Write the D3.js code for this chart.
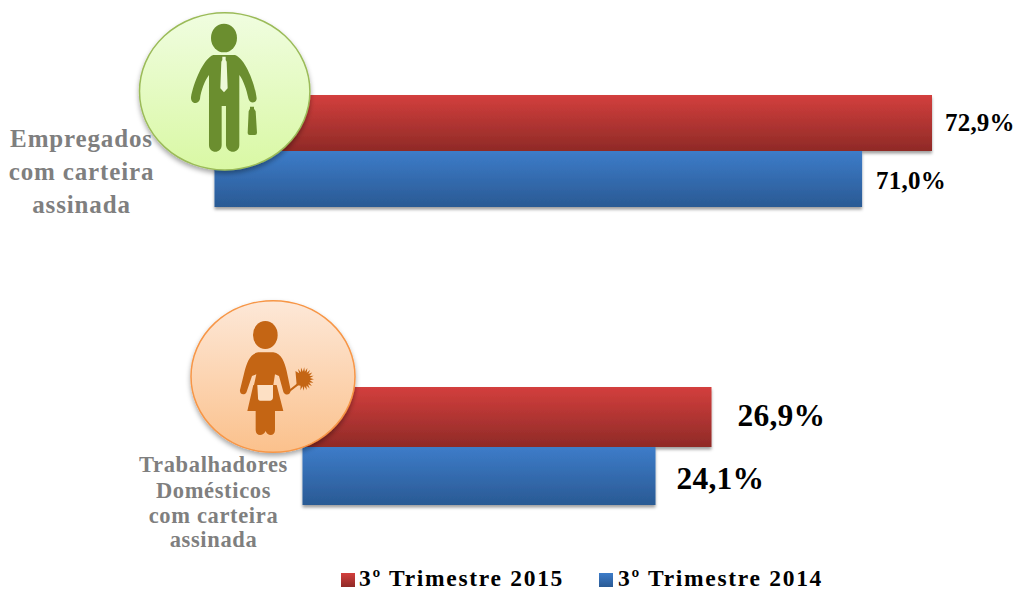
<!DOCTYPE html>
<html><head><meta charset="utf-8">
<style>html,body{margin:0;padding:0;background:#fff}svg{display:block}text{font-family:"Liberation Serif",serif;font-weight:bold}</style>
<script src="https://cdn.jsdelivr.net/npm/d3@7/dist/d3.min.js"></script></head>
<body><svg id="c" width="1018" height="591"></svg>
<script>
const groups=["Empregados com carteira assinada","Trabalhadores Domésticos com carteira assinada"];
const seriesNames=["3º Trimestre 2015","3º Trimestre 2014"];
const values2015=[72.9,26.9];
const values2014=[71.0,24.1];
const axisStart=[53.4,6.45];
const axisEnd=[72.9,26.9];

const svg=d3.select("#c"),defs=svg.append("defs");
function grad(id,a,b){const g=defs.append("linearGradient").attr("id",id).attr("x1",0).attr("x2",0).attr("y1",0).attr("y2",1);
 g.append("stop").attr("offset",0).attr("stop-color",a);g.append("stop").attr("offset",1).attr("stop-color",b);}
grad("red","#d33f3d","#8f2a27");grad("blue","#3d7cc9","#2a5a94");
grad("green","#f0fde0","#d9f8a4");grad("orange","#fde8d8","#fbc18c");
const sh=(id,dy,b,o)=>{const f=defs.append("filter").attr("id",id).attr("x","-10%").attr("y","-15%").attr("width","125%").attr("height","135%");
 f.append("feDropShadow").attr("dx",0).attr("dy",dy).attr("stdDeviation",b).attr("flood-color","#000").attr("flood-opacity",o);};
sh("bs",2.5,1.5,.38);sh("cs",3,2.5,.35);

const fmt=d3.formatLocale({decimal:",",thousands:".",grouping:[3],currency:["",""]}).format(".1f");
const layout=[
 {x0:214.5,x1:932,y:95,h1:56,h2:56,fs:25,labelDx:[13,14],labelDy:[0,2]},
 {x0:302.5,x1:711.5,y:387,h1:60,h2:58,fs:31.5,labelDx:[26,21],labelDy:[0,4]}
];
const colors=["url(#red)","url(#blue)"];
groups.forEach((g,i)=>{
 const L=layout[i],x=d3.scaleLinear().domain([axisStart[i],axisEnd[i]]).range([L.x0,L.x1]);
 const y=d3.scaleOrdinal().domain(seriesNames).range([L.y,L.y+L.h1]);
 const rows=[{s:seriesNames[0],v:values2015[i],h:L.h1,c:colors[0]},{s:seriesNames[1],v:values2014[i],h:L.h2,c:colors[1]}];
 const gg=svg.append("g");
 gg.selectAll("rect").data(rows).join("rect").attr("x",x(axisStart[i])).attr("y",d=>y(d.s)).attr("width",d=>x(d.v)-x(axisStart[i])).attr("height",d=>d.h).attr("fill",d=>d.c).attr("filter","url(#bs)");
 gg.selectAll("text").data(rows).join("text").attr("x",(d,j)=>x(d.v)+L.labelDx[j]).attr("y",(d,j)=>y(d.s)+d.h/2+L.fs*.3+L.labelDy[j]).attr("font-size",L.fs).attr("fill","#000").attr("letter-spacing",.2).text(d=>fmt(d.v)+"%");
});

// category labels
const lab1=["Empregados","com carteira","assinada"],lab1y=[147,180,213];
const lab2=["Trabalhadores","Domésticos","com carteira","assinada"],lab2y=[472,498,523,547];
svg.append("g").selectAll("text").data(lab1).join("text").attr("x",81.5).attr("y",(d,i)=>lab1y[i]).attr("text-anchor","middle").attr("font-size",25).attr("letter-spacing",.85).attr("fill","#7f7f7f").text(d=>d);
svg.append("g").selectAll("text").data(lab2).join("text").attr("x",213.5).attr("y",(d,i)=>lab2y[i]).attr("text-anchor","middle").attr("font-size",22.5).attr("letter-spacing",.65).attr("fill","#7f7f7f").text(d=>d);

// circles + icons
svg.append("ellipse").attr("cx",224.7).attr("cy",91.3).attr("rx",85.2).attr("ry",78.6).attr("fill","url(#green)").attr("stroke","#9bbb59").attr("stroke-width",1.5).attr("filter","url(#cs)");
const man=svg.append("g").attr("transform","translate(130,0) scale(.3333)").attr("fill","#6b8e2f");
man.append("ellipse").attr("cx",282).attr("cy",114).attr("rx",39).attr("ry",43);
man.append("path").attr("d","M250,165 L315,165 C345,175 375,250 380,295 C380,312 358,312 355,295 C350,270 340,240 328,225 L328,435 C328,462 290,462 288,435 L288,318 L275,318 L275,435 C275,462 237,462 237,435 L237,225 C225,240 212,275 210,297 C205,315 182,312 183,292 C190,250 220,175 250,165Z");
man.append("path").attr("fill","#eefad8").attr("d","M277,170 h10 v10 l3,5 l3,80 l-11,12 l-11,-12 l3,-80 l3,-5z");
man.append("path").attr("d","M360,320 h12 l0,6 l5,8 l4,64 q0,7 -6,7 h-16 q-6,0 -6,-6 l3,-65 l4,-8z");

svg.append("ellipse").attr("cx",273).attr("cy",376.5).attr("rx",82).attr("ry",75.8).attr("fill","url(#orange)").attr("stroke","#f79646").attr("stroke-width",1.5).attr("filter","url(#cs)");
const maid=svg.append("g").attr("transform","translate(180,295) scale(.3333)").attr("fill","#c46514");
maid.append("ellipse").attr("cx",256).attr("cy",120).attr("rx",37).attr("ry",42);
maid.append("path").attr("d","M235,172 H280 C305,175 315,205 320,228 L332,285 C332,302 314,302 310,290 L297,243 L285,238 L280,270 L290,270 L310,348 L285,348 L285,405 C285,425 262,425 257,408 C250,425 227,425 227,405 L227,348 L202,348 L220,270 L222,270 L229,238 L216,243 L200,290 C196,302 178,300 180,285 L194,228 C200,205 210,175 235,172Z");
maid.append("path").attr("fill","#fde0c4").attr("d","M232,270 H279 V306 q0,10 -8,11 H241 q-8,0 -7,-11z");
maid.append("path").attr("fill","none").attr("stroke","#c46514").attr("stroke-width",6).attr("stroke-linecap","round").attr("d","M328,288 L356,266");
const spikes=d3.range(30).map(k=>{const a=-2.4+k*(4.4/29),r=k%2?20:32;return [370+r*Math.cos(a),252+r*Math.sin(a)*1.1];});
maid.append("path").attr("d",d3.line()(spikes.concat([[350,270]]))+"Z");

// legend
const lg=svg.append("g");
const lx=[341,599],tx=[359,618],sw=["url(#red)","url(#blue)"];
seriesNames.forEach((s,i)=>{
 lg.append("rect").attr("x",lx[i]).attr("y",573).attr("width",14).attr("height",14).attr("fill",sw[i]);
 lg.append("text").attr("x",tx[i]).attr("y",586).attr("font-size",23.5).attr("letter-spacing",1.7).attr("fill","#000").text(s);
});
</script></body></html>
